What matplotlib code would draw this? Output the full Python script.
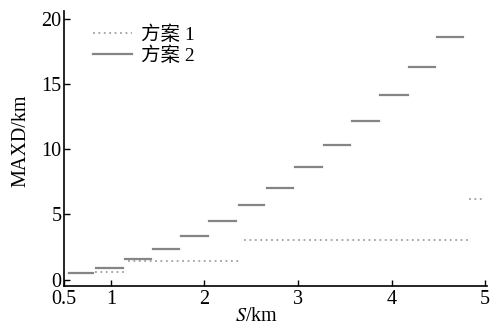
import matplotlib
matplotlib.use("Agg")
import matplotlib.pyplot as plt

plt.rcParams['font.family'] = ['Liberation Serif', 'Noto Sans CJK SC']
plt.rcParams['mathtext.fontset'] = 'stix'

# 方案 2: step segments (start, end, value)
plan2_start = [0.55, 0.84, 1.15, 1.45, 1.75, 2.05, 2.37, 2.67, 2.97, 3.28, 3.58, 3.88, 4.19, 4.48]
plan2_end = [0.81, 1.13, 1.43, 1.73, 2.04, 2.34, 2.64, 2.95, 3.26, 3.56, 3.87, 4.17, 4.46, 4.76]
plan2_val = [0.53, 0.90, 1.58, 2.34, 3.32, 4.47, 5.70, 7.03, 8.61, 10.35, 12.18, 14.17, 16.32, 18.61]

# 方案 1
plan1_start = [0.55, 0.83, 1.18, 2.42, 4.83]
plan1_end = [0.81, 1.17, 2.37, 4.83, 4.99]
plan1_val = [0.50, 0.57, 1.43, 3.04, 6.18]

xticks = [0.5, 1, 2, 3, 4, 5]
xticklabels = ['0.5', '1', '2', '3', '4', '5']
yticks = [0, 5, 10, 15, 20]

fig = plt.figure(figsize=(4.97, 3.27), dpi=100)
ax = fig.add_axes([0.129, 0.125, 0.851, 0.841])

for i, (s, e, v) in enumerate(zip(plan1_start, plan1_end, plan1_val)):
    ax.plot([s, e], [v, v], color='#a0a0a0', lw=1.3, linestyle=(0, (1, 2)),
            label='方案 1' if i == 0 else None)
for i, (s, e, v) in enumerate(zip(plan2_start, plan2_end, plan2_val)):
    ax.plot([s, e], [v, v], color='#858585', lw=1.6,
            label='方案 2' if i == 0 else None)

ax.set_xlim(0.5, 5.02)
ax.set_ylim(-0.5, 20.6)
ax.set_xticks(xticks)
ax.set_xticklabels(xticklabels)
ax.set_yticks(yticks)
ax.tick_params(direction='in', length=4, width=1, labelsize=14.5, pad=2)
ax.tick_params(axis='x', pad=3)
for side in ['top', 'right']:
    ax.spines[side].set_visible(False)
for side in ['left', 'bottom']:
    ax.spines[side].set_linewidth(1.2)

ax.set_xlabel('$S$/km', fontsize=14.5)
ax.set_ylabel('MAXD/km', fontsize=14.5)
ax.xaxis.set_label_coords(0.456, -0.075)
ax.yaxis.set_label_coords(-0.08, 0.53)

ax.legend(loc='upper left', frameon=False, fontsize=14, handlelength=2.0,
          handletextpad=0.5, labelspacing=0.1, borderaxespad=0.2,
          bbox_to_anchor=(0.04, 0.99))

fig.savefig('out.png', dpi=100)
